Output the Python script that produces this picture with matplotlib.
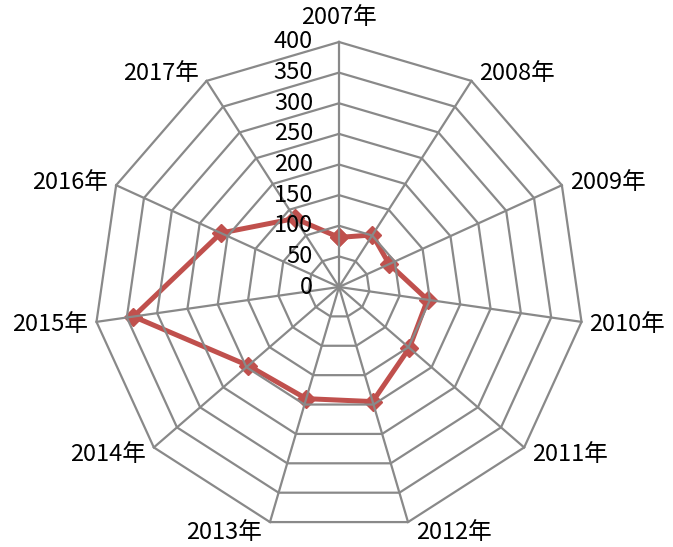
import numpy as np
import matplotlib
matplotlib.use('Agg')
import matplotlib.pyplot as plt

plt.rcParams['font.family'] = ['Noto Sans CJK SC', 'DejaVu Sans']

categories = ['2007年', '2008年', '2009年', '2010年', '2011年', '2012年',
              '2013年', '2014年', '2015年', '2016年', '2017年']
values = [81, 101, 90, 146, 152, 195, 190, 196, 339, 212, 133]
ticks = [0, 50, 100, 150, 200, 250, 300, 350, 400]

W, H = 673, 547
cx, cy = 339, 287          # centre of the web, pixels
rad_px = 245.0             # pixels for r = 400
upp = ticks[-1] / rad_px   # data units per pixel

fig = plt.figure(figsize=(W / 100, H / 100), dpi=100)
ax = fig.add_axes([0, 0, 1, 1])
ax.set_xlim(-cx * upp, (W - cx) * upp)
ax.set_ylim(-(H - cy) * upp, cy * upp)
ax.set_aspect('equal')
ax.axis('off')

n = len(categories)
ang = np.arange(n) * 2 * np.pi / n   # clockwise from top
sx, sy = np.sin(ang), np.cos(ang)

# data (excel draws the web on top of the series)
v = np.array(values, dtype=float)
ax.plot(np.append(sx * v, sx[0] * v[0]), np.append(sy * v, sy[0] * v[0]),
        color='#C0504D', lw=3.6, marker='D', markersize=9.5, zorder=1)

grid_col = '#898989'
# polygon rings
for t in ticks[1:]:
    ax.plot(np.append(sx, sx[0]) * t, np.append(sy, sy[0]) * t,
            color=grid_col, lw=1.6, zorder=2)
# spokes
for i in range(n):
    ax.plot([0, sx[i] * ticks[-1]], [0, sy[i] * ticks[-1]],
            color=grid_col, lw=1.6, zorder=2)

# tick labels along the vertical axis
for t in ticks:
    ax.annotate(str(t), xy=(0, t), xytext=(-26, 0), textcoords='offset pixels',
                ha='right', va='center', fontsize=17, color='black', zorder=5)

# category labels
for i, lab in enumerate(categories):
    vx, vy = sx[i] * ticks[-1], sy[i] * ticks[-1]
    if abs(sx[i]) < 0.1:
        ax.annotate(lab, xy=(vx, vy), xytext=(0, 13), textcoords='offset pixels',
                    ha='center', va='bottom', fontsize=17)
    else:
        ha = 'left' if sx[i] > 0 else 'right'
        ax.annotate(lab, xy=(vx, vy), xytext=(8 * np.sign(sx[i]), 10 * sy[i] - 1),
                    textcoords='offset pixels', ha=ha, va='center', fontsize=17)

fig.savefig('out.png', dpi=100)
